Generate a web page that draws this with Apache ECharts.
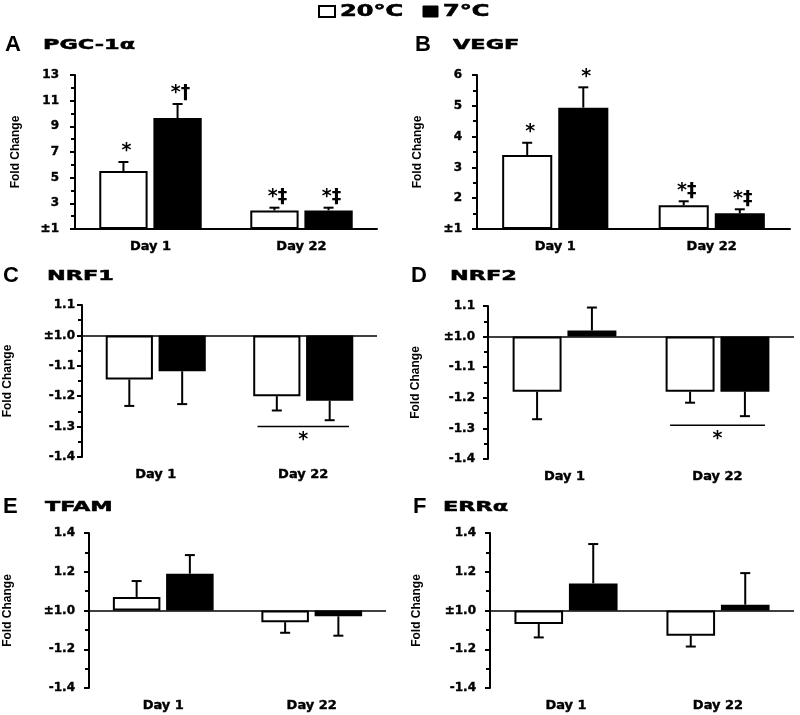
<!DOCTYPE html>
<html>
<head>
<meta charset="utf-8">
<script src="https://cdn.jsdelivr.net/npm/echarts@6/dist/echarts.min.js"></script>
<style>html,body{margin:0;padding:0;background:#fff}#chart{width:800px;height:715px}</style>
</head>
<body>
<div id="chart"></div>
<script>
// ---------------- DATA ----------------
const categories = ['Day 1', 'Day 22'];
const seriesNames = ['20°C', '7°C'];
const panelLetters = ['A', 'B', 'C', 'D', 'E', 'F'];
const panelTitles = ['PGC-1α', 'VEGF', 'NRF1', 'NRF2', 'TFAM', 'ERRα'];
const yAxisName = 'Fold Change';

// fold change values (signed fold change: ±1 = no change) and SEM
const pgcWarm = [5.52, 2.45];   const pgcWarmSem = [0.70, 0.21];
const pgcCold = [9.65, 2.45];   const pgcColdSem = [1.09, 0.21];
const vegfWarm = [3.40, 1.77];  const vegfWarmSem = [0.40, 0.13];
const vegfCold = [4.94, 1.51];  const vegfColdSem = [0.66, 0.13];
const nrf1Warm = [-1.145, -1.20]; const nrf1WarmSem = [0.087, 0.047];
const nrf1Cold = [-1.118, -1.215]; const nrf1ColdSem = [0.108, 0.064];
const nrf2Warm = [-1.18, -1.18]; const nrf2WarmSem = [0.09, 0.036];
const nrf2Cold = [1.02, -1.18];  const nrf2ColdSem = [0.075, 0.08];
const tfamWarm = [1.07, -1.06];  const tfamWarmSem = [0.082, 0.055];
const tfamCold = [1.19, -1.03];  const tfamColdSem = [0.096, 0.10];
const errWarm = [-1.07, -1.13];  const errWarmSem = [0.069, 0.056];
const errCold = [1.14, 1.03];    const errColdSem = [0.203, 0.163];

// significance marks
const pgcWarmMarks = ['*', '*‡'];  const pgcColdMarks = ['*†', '*‡'];
const vegfWarmMarks = ['*', '*‡']; const vegfColdMarks = ['*', '*‡'];
const noMarks = ['', ''];
const nrf1Bracket = ['Day 22', -1.30, '*'];
const nrf2Bracket = ['Day 22', -1.29, '*'];

// axis ranges (fold change) and tick labels
const rangeA = [1, 13, 2];      const ticksA = ['±1', '3', '5', '7', '9', '11', '13'];
const rangeB = [1, 6, 1];       const ticksB = ['±1', '2', '3', '4', '5', '6'];
const rangeCD = [-1.4, 1.1, 0.1]; const ticksCD = ['-1.4', '-1.3', '-1.2', '-1.1', '±1.0', '1.1'];
const rangeEF = [-1.4, 1.4, 0.2]; const ticksEF = ['-1.4', '-1.2', '±1.0', '1.2', '1.4'];

// ---------------- BUILD ----------------
// signed fold change -> linear axis coordinate (±1 maps to 0)
function toCoord(f) { return f >= 1 ? f - 1 : (f <= -1 ? f + 1 : 0); }
function r(v) { return Math.round(v * 10000) / 10000; }

const BW = 0.32, GAP = 0.12;
const FONT_TICK = 'DejaVu Sans';
const MARK_FONT = 'bold 19px "DejaVu Sans"';

const panels = [
  { warm: pgcWarm, warmSem: pgcWarmSem, cold: pgcCold, coldSem: pgcColdSem, wm: pgcWarmMarks, cm: pgcColdMarks, range: rangeA, ticks: ticksA, bracket: null, zeroLine: false,
    grid: { left: 75, top: 75, width: 302, height: 154 }, lm: 16, ng: 53, tx: [5, 43], ty: 45 },
  { warm: vegfWarm, warmSem: vegfWarmSem, cold: vegfCold, coldSem: vegfColdSem, wm: vegfWarmMarks, cm: vegfColdMarks, range: rangeB, ticks: ticksB, bracket: null, zeroLine: false,
    grid: { left: 477, top: 75, width: 313, height: 154 }, lm: 15, ng: 53, tx: [415, 453], ty: 45 },
  { warm: nrf1Warm, warmSem: nrf1WarmSem, cold: nrf1Cold, coldSem: nrf1ColdSem, wm: noMarks, cm: noMarks, range: rangeCD, ticks: ticksCD, bracket: nrf1Bracket, zeroLine: true,
    grid: { left: 82, top: 305, width: 295, height: 152 }, lm: 7, ng: 68, tx: [3, 47], ty: 276 },
  { warm: nrf2Warm, warmSem: nrf2WarmSem, cold: nrf2Cold, coldSem: nrf2ColdSem, wm: noMarks, cm: noMarks, range: rangeCD, ticks: ticksCD, bracket: nrf2Bracket, zeroLine: true,
    grid: { left: 488, top: 306, width: 306, height: 153 }, lm: 13, ng: 66, tx: [411, 450], ty: 276 },
  { warm: tfamWarm, warmSem: tfamWarmSem, cold: tfamCold, coldSem: tfamColdSem, wm: noMarks, cm: noMarks, range: rangeEF, ticks: ticksEF, bracket: null, zeroLine: true,
    grid: { left: 89, top: 533, width: 297, height: 155 }, lm: 14, ng: 75, tx: [3, 45], ty: 507 },
  { warm: errWarm, warmSem: errWarmSem, cold: errCold, coldSem: errColdSem, wm: noMarks, cm: noMarks, range: rangeEF, ticks: ticksEF, bracket: null, zeroLine: true,
    grid: { left: 490, top: 533, width: 304, height: 155 }, lm: 14, ng: 67, tx: [413, 443], ty: 507 }
];

function errEnd(f, sem) { const c = toCoord(f); return c >= 0 ? c + sem : c - sem; }

function makeErrRender(marks) {
  return function (params, api) {
    const cat = api.value(0), v = api.value(1), e = api.value(2), side = api.value(3);
    const p1 = api.coord([cat, v]);
    const p2 = api.coord([cat, e]);
    const band = api.size([1, 0])[0];
    const x = p1[0] + side * band * BW * (1 + GAP) / 2;
    const children = [
      { type: 'line', shape: { x1: x, y1: p1[1], x2: x, y2: p2[1] }, style: { stroke: '#000', lineWidth: 2 } },
      { type: 'line', shape: { x1: x - 5, y1: p2[1], x2: x + 5, y2: p2[1] }, style: { stroke: '#000', lineWidth: 2 } }
    ];
    const m = marks[params.dataIndex];
    if (m) {
      children.push({ type: 'text', style: { text: m, x: x + 3, y: p2[1] - 1, textAlign: 'center', textVerticalAlign: 'bottom', align: 'center', verticalAlign: 'bottom',
        font: MARK_FONT, fill: '#000' } });
    }
    return { type: 'group', children: children };
  };
}

function bracketRender(params, api) {
  const p = api.coord([api.value(0), api.value(1)]);
  const band = api.size([1, 0])[0];
  const h = band * 0.31;
  return { type: 'group', children: [
    { type: 'line', shape: { x1: p[0] - h, y1: p[1], x2: p[0] + h, y2: p[1] }, style: { stroke: '#000', lineWidth: 1.5 } },
    { type: 'text', style: { text: '*', x: p[0], y: p[1] + 4, textAlign: 'center', textVerticalAlign: 'top', align: 'center', verticalAlign: 'top',
      font: MARK_FONT, fill: '#000' } }
  ] };
}

const grid = [], xAxis = [], yAxis = [], series = [], graphic = [];

panels.forEach(function (p, i) {
  grid.push(Object.assign({ containLabel: false }, p.grid));
  xAxis.push({
    type: 'category', gridIndex: i, data: categories,
    axisTick: { show: false },
    axisLine: { show: !p.zeroLine, onZero: false, lineStyle: { color: '#000', width: 2 } },
    axisLabel: { color: '#000', fontFamily: FONT_TICK, fontWeight: 'bold', fontSize: 13, margin: 11,
      textBorderColor: '#000', textBorderWidth: 0.4 }
  });
  const ticks = p.ticks;
  yAxis.push({
    type: 'value', gridIndex: i,
    min: r(toCoord(p.range[0])), max: r(toCoord(p.range[1])), interval: p.range[2],
    name: yAxisName, nameLocation: 'middle', nameRotate: 90, nameGap: p.ng,
    nameTextStyle: { color: '#000', fontFamily: 'Liberation Sans', fontWeight: 'bold', fontSize: 12 },
    axisLine: { show: true, lineStyle: { color: '#000', width: 2 } },
    axisTick: { show: true, inside: false, length: 5, lineStyle: { color: '#000', width: 2 } },
    minorTick: { show: true, splitNumber: 2, length: 4, lineStyle: { color: '#000', width: 2 } },
    splitLine: { show: false }, minorSplitLine: { show: false },
    axisLabel: { color: '#000', fontFamily: FONT_TICK, fontWeight: 'bold', fontSize: 12, margin: p.lm,
      textBorderColor: '#000', textBorderWidth: 0.4,
      formatter: function (val, idx) { return ticks[idx]; } }
  });
  const warmBar = {
    type: 'bar', name: seriesNames[0], xAxisIndex: i, yAxisIndex: i,
    data: p.warm.map(function (f) { return r(toCoord(f)); }),
    barWidth: (BW * 100) + '%', barGap: (GAP * 100) + '%',
    itemStyle: { color: '#fff', borderColor: '#000', borderWidth: 2 }
  };
  if (p.zeroLine) {
    warmBar.markLine = { silent: true, symbol: 'none', label: { show: false }, animation: false,
      lineStyle: { color: '#000', width: 1.5, type: 'solid' }, data: [{ yAxis: 0 }] };
  }
  series.push(warmBar);
  series.push({
    type: 'bar', name: seriesNames[1], xAxisIndex: i, yAxisIndex: i,
    data: p.cold.map(function (f) { return r(toCoord(f)); }),
    barWidth: (BW * 100) + '%', barGap: (GAP * 100) + '%',
    itemStyle: { color: '#000', borderColor: '#000', borderWidth: 2 }
  });
  const errData = [], marks = [];
  p.warm.forEach(function (f, k) { errData.push([k, r(toCoord(f)), r(errEnd(f, p.warmSem[k])), -1]); marks.push(p.wm[k]); });
  p.cold.forEach(function (f, k) { errData.push([k, r(toCoord(f)), r(errEnd(f, p.coldSem[k])), 1]); marks.push(p.cm[k]); });
  series.push({ type: 'custom', xAxisIndex: i, yAxisIndex: i, silent: true, z: 5,
    renderItem: makeErrRender(marks), data: errData });
  if (p.bracket) {
    series.push({ type: 'custom', xAxisIndex: i, yAxisIndex: i, silent: true, z: 5,
      renderItem: bracketRender, data: [[categories.indexOf(p.bracket[0]), r(toCoord(p.bracket[1]))]] });
  }
  // panel letter and title
  graphic.push({ type: 'text', x: p.tx[0], y: p.ty, style: { text: panelLetters[i], font: 'bold 22px "Liberation Sans"', fill: '#000',
    textAlign: 'left', textVerticalAlign: 'middle', align: 'left', verticalAlign: 'middle' } });
  graphic.push({ type: 'text', x: p.tx[1], y: p.ty, scaleX: 1.6, style: { text: panelTitles[i], font: 'bold 14px "DejaVu Sans"', fill: '#000',
    stroke: '#000', lineWidth: 0.5, textAlign: 'left', textVerticalAlign: 'middle', align: 'left', verticalAlign: 'middle' } });
});

// legend (drawn as graphic to match the wide lettering of the original)
graphic.push({ type: 'rect', shape: { x: 319, y: 6, width: 16, height: 11 }, style: { fill: '#fff', stroke: '#000', lineWidth: 2 } });
graphic.push({ type: 'text', x: 340, y: 12, scaleX: 1.6, style: { text: seriesNames[0], font: 'bold 15px "DejaVu Sans"', fill: '#000',
  stroke: '#000', lineWidth: 0.6, textAlign: 'left', textVerticalAlign: 'middle', align: 'left', verticalAlign: 'middle' } });
graphic.push({ type: 'rect', shape: { x: 423, y: 6, width: 15, height: 11 }, style: { fill: '#000', stroke: '#000', lineWidth: 1 } });
graphic.push({ type: 'text', x: 443, y: 12, scaleX: 1.6, style: { text: seriesNames[1], font: 'bold 15px "DejaVu Sans"', fill: '#000',
  stroke: '#000', lineWidth: 0.6, textAlign: 'left', textVerticalAlign: 'middle', align: 'left', verticalAlign: 'middle' } });

const chart = echarts.init(document.getElementById('chart'), null, { renderer: 'canvas' });
chart.setOption({
  backgroundColor: '#fff',
  animation: false,
  grid: grid, xAxis: xAxis, yAxis: yAxis, series: series, graphic: graphic
});
</script>
</body>
</html>
